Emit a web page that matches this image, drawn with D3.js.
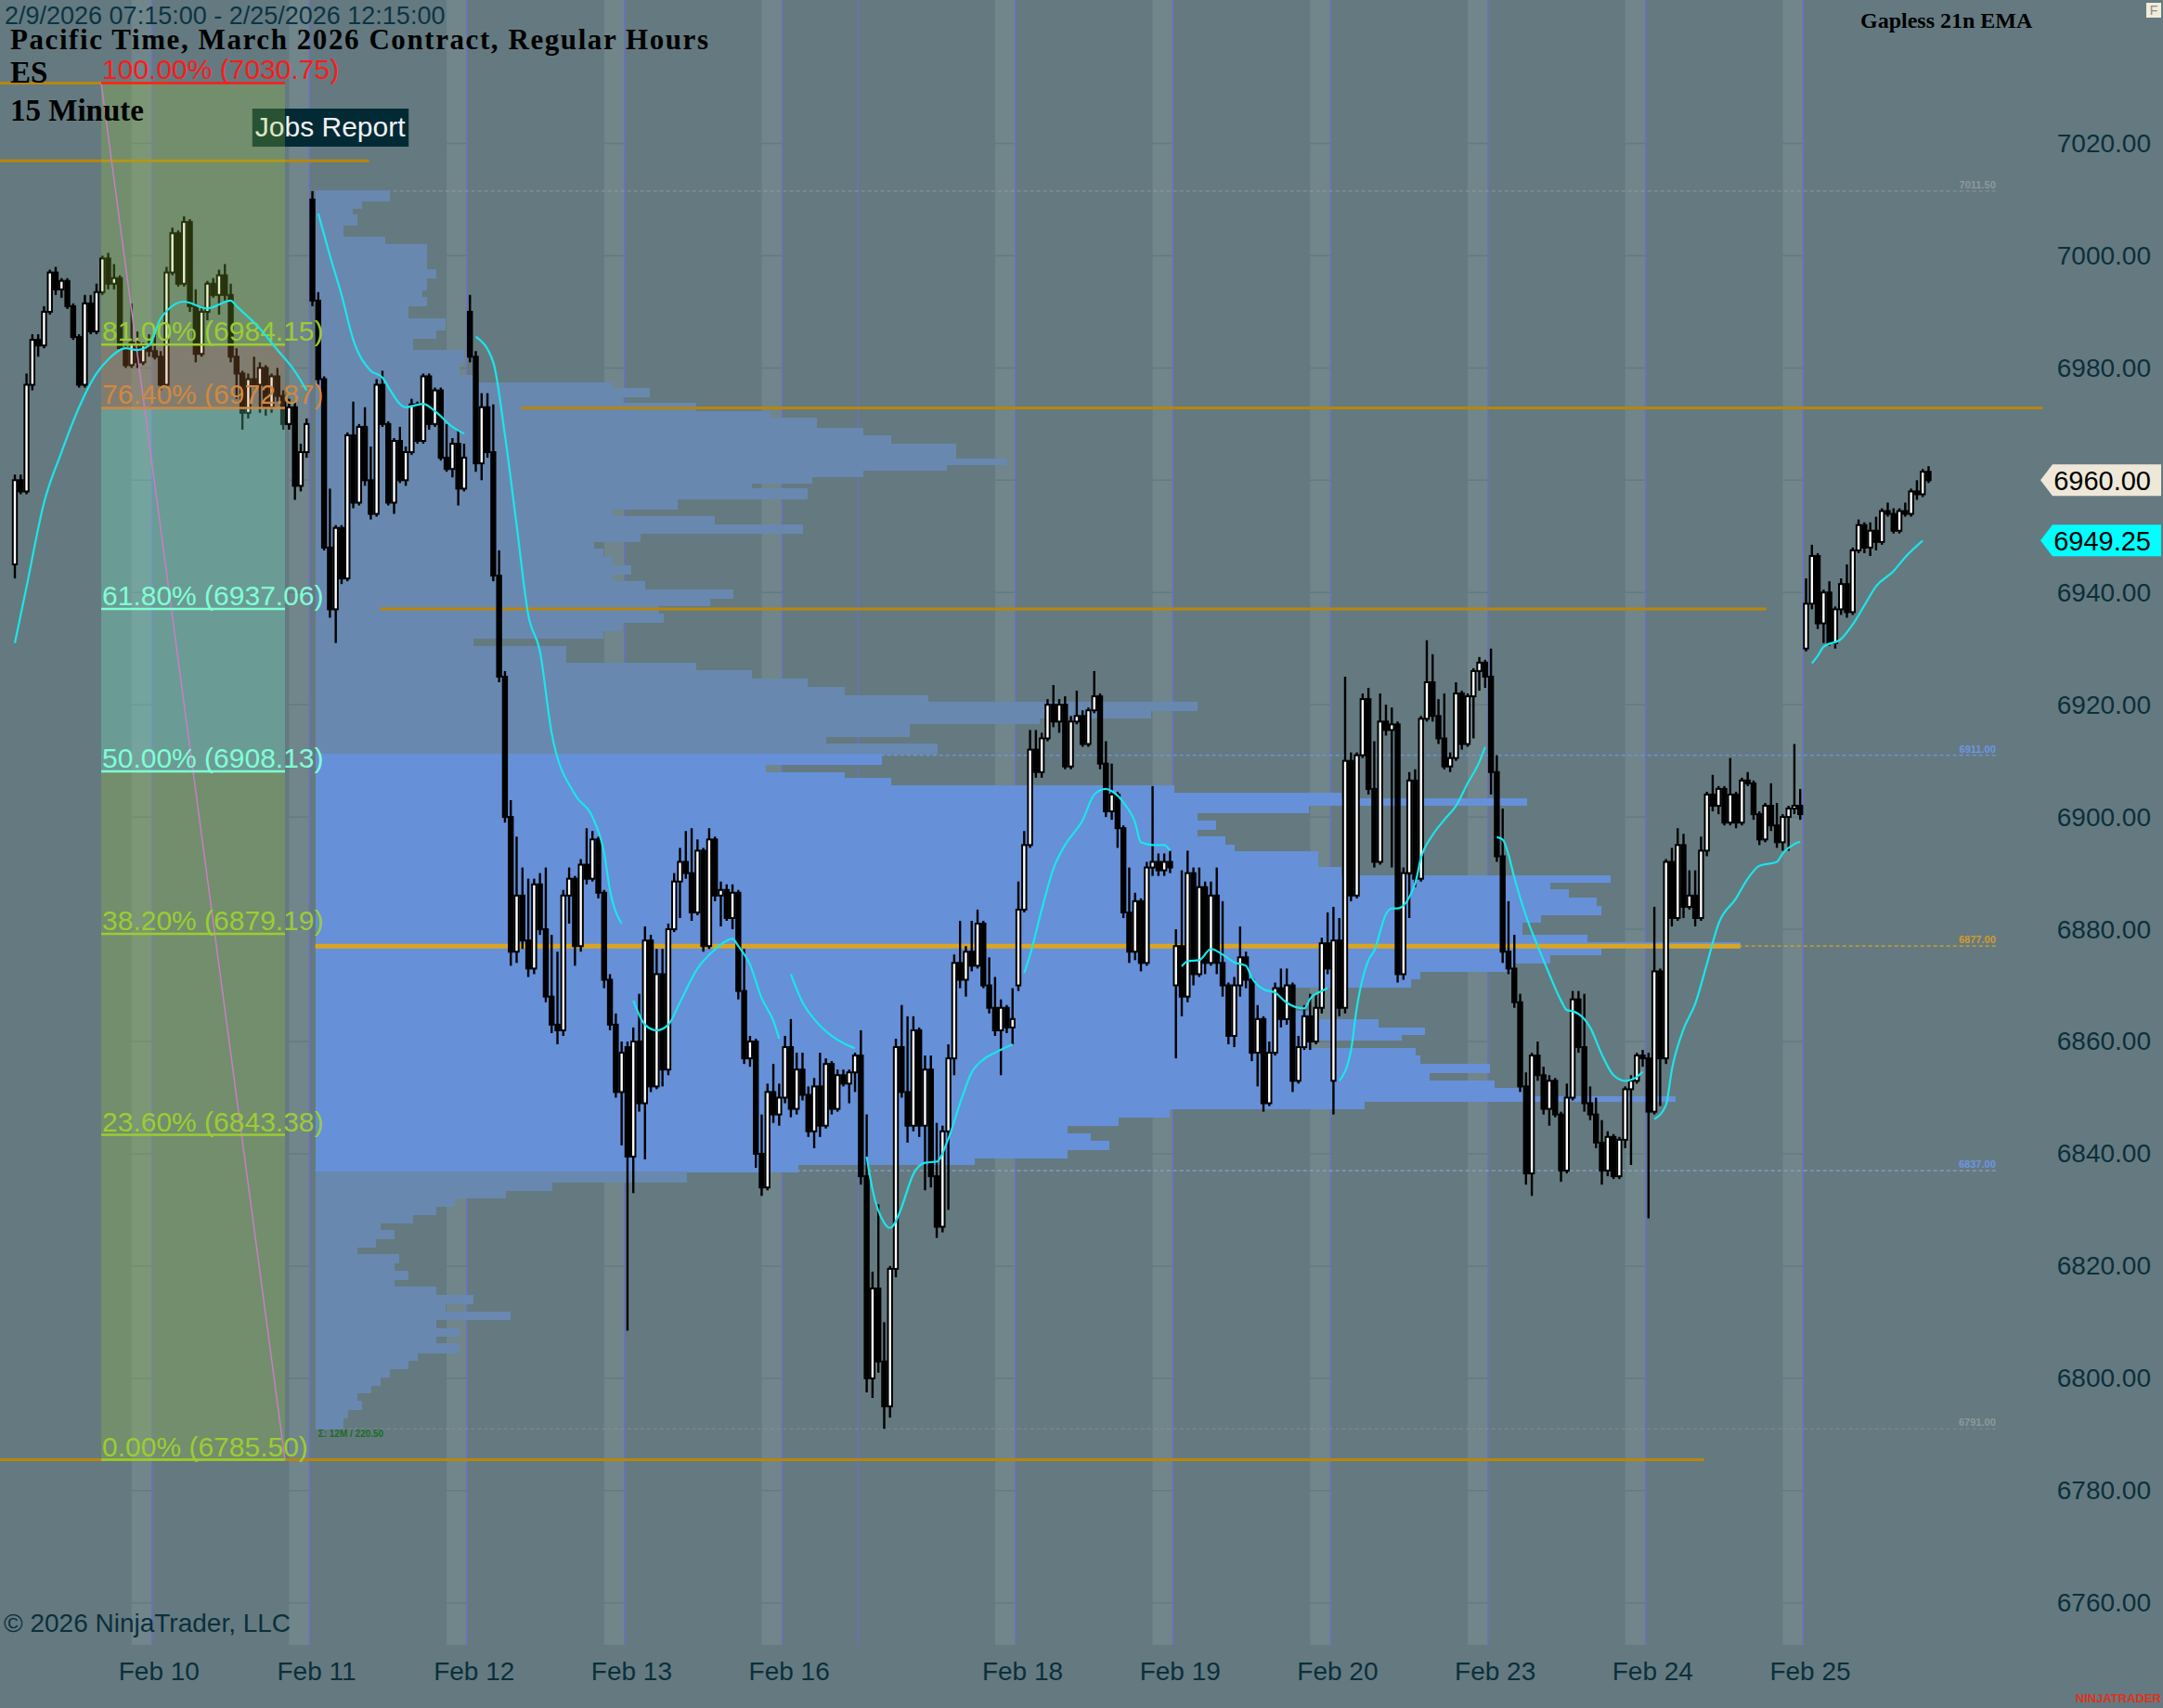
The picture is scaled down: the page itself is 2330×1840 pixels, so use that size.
<!DOCTYPE html>
<html>
<head>
<meta charset="utf-8">
<script src="https://cdn.jsdelivr.net/npm/d3@7"></script>
<style>
  body { margin: 0; background: #647a80; }
  svg { display: block; }
</style>
</head>
<body>
<div id="chart"></div>
<script>
// ES 15 minute bars, regular hours, [open, high, low, close]
const feb09 = [
  [6945,6961,6942.5,6960],[6960,6961,6957.5,6958],[6958,6979,6957.5,6977],[6977,6986,6976,6985],
  [6985,6986,6982,6984],[6984,6991,6983.5,6990],[6990,6997.5,6989.5,6997],[6997,6998,6993,6994],
  [6994,6996,6992.5,6995.5],[6995.5,6996,6990.5,6991],[6991,6991.5,6985,6985.5],[6985.5,6986,6976.5,6977],
  [6977,6993,6976.5,6991.5],[6991.5,6993,6986,6986.5],[6986.5,6995,6986,6993.5],[6993.5,7000,6993,6999.5],
  [6999.5,7000.5,6994,6995],[6995,6998.5,6994,6996],[6996,6996.5,6983,6983.5],[6983.5,6984,6980,6980.5],
  [6980.5,6991.5,6980,6984.5],[6984.5,6986.5,6980,6981],[6981,6984.5,6980.5,6984],[6984,6986,6982,6983]
];
const feb10 = [
  [6983,6986,6981.5,6982],[6982,6983,6976,6977],[6977,6998,6976.5,6997],[6997,7005,6996.5,7004],
  [7004,7004.5,6994.5,6995],[6995,7007,6994.5,7006],[7006,7006.5,6990,6991],[6991,6994,6981,6982.5],
  [6982.5,6991,6982,6990],[6990,6995.5,6988.5,6995],[6995,6996,6992.5,6993],[6993,6997.5,6989.5,6996.5],
  [6996.5,6998.5,6992,6993],[6993,6995,6981,6982],[6982,6983.5,6974.5,6979],[6979,6979.5,6969,6972],
  [6972,6979,6971,6978],[6978,6982,6976.5,6977],[6977,6981,6972,6980],[6980,6980.5,6971.5,6973],
  [6973,6979,6972,6978.5],[6978.5,6980,6974,6975],[6975,6976,6969,6970],[6970,6974.5,6969,6973],
  [6973,6974,6956.5,6959],[6959,6966.5,6958,6965],[6965,6971,6964,6970]
];
const feb11 = [
  [7010,7011.5,6991,6992],[6992,6993.5,6977,6978],[6978,6978.5,6947.5,6948],[6948,6958.5,6935.5,6937],
  [6937,6952,6931,6951.5],[6951.5,6952,6941.5,6942.5],[6942.5,6968.5,6942,6968],[6968,6974,6955,6956],
  [6956,6970,6955.5,6969.5],[6969.5,6973,6959,6960],[6960,6966,6953,6954],[6954,6978,6953.5,6977],
  [6977,6979.5,6969.5,6970],[6970,6970.5,6955.5,6956],[6956,6967.5,6954,6967],[6967,6969.5,6959.5,6960],
  [6960,6966,6959,6965],[6965,6974.5,6964.5,6973.5],[6973.5,6974,6966.5,6967],[6967,6979,6966.5,6978.5],
  [6978.5,6979,6969,6970],[6970,6976.5,6969.5,6976],[6976,6976.5,6963.5,6964],[6964,6970,6961.5,6962],
  [6962,6967.5,6960.5,6966.5],[6966.5,6969,6955.5,6958.5],[6958.5,6966.5,6958,6964]
];
const feb12 = [
  [6990,6993,6981,6982],[6982,6983,6961.5,6963],[6963,6975.5,6960,6973],[6973,6975.5,6964,6965],
  [6965,6973.5,6942,6943],[6943,6947.5,6924,6925],[6925,6926,6899,6900],[6900,6903,6873.5,6876],
  [6876,6896.5,6874,6886],[6886,6891,6876.5,6878],[6878,6889,6871.5,6873],[6873,6889,6872,6888],
  [6888,6890,6879,6880],[6880,6891,6867,6868],[6868,6879,6861.5,6863],[6863,6876,6859.5,6862],
  [6862,6887,6861,6886],[6886,6891,6881,6889],[6889,6889.5,6873.5,6877],[6877,6892.5,6876,6891.5],
  [6891.5,6898,6888,6889],[6889,6897.5,6888.5,6896],[6896,6896.5,6885.5,6886.5],[6886.5,6887,6869.5,6871],
  [6871,6872,6862,6863],[6863,6865,6850,6851],[6851,6860,6841.5,6858]
];
const feb13 = [
  [6859,6860,6808.5,6839.5],[6839.5,6862.5,6833,6860],[6860,6868.5,6847.5,6849],[6849,6880.5,6839,6878],
  [6878,6879,6851,6852],[6852,6876.5,6851.5,6872],[6872,6876.5,6852,6855],[6855,6881,6854,6880],
  [6880,6890,6879.5,6888.5],[6888.5,6894.5,6882,6892],[6892,6897.5,6889,6890],[6890,6898,6881.5,6883],
  [6883,6896,6882.5,6894],[6894,6894.5,6876,6877],[6877,6898,6876.5,6896],[6896,6896.5,6885,6886],
  [6886,6888.5,6880.5,6887],[6887,6888,6881.5,6882],[6882,6888,6880,6886.5],[6886.5,6887,6867.5,6869],
  [6869,6876.5,6856,6857],[6857,6861,6855.5,6860],[6860,6860.5,6837.5,6840],[6840,6847,6832.5,6834],
  [6834,6852.5,6833.5,6851],[6851,6856,6845.5,6847],[6847,6852.5,6845,6850]
];
const feb16 = [
  [6850,6861,6849,6859],[6859,6864,6846.5,6848],[6848,6858,6847,6855],[6855,6858,6849.5,6850.5],
  [6850.5,6852,6843,6844],[6844,6853.5,6841,6852],[6852,6858,6843,6845],[6845,6857,6844.5,6856],
  [6856,6856.5,6847,6848],[6848,6855,6847.5,6854],[6854,6855,6852,6852.5],[6852.5,6855,6849,6854.5],
  [6854.5,6858,6851,6857.5]
];
const feb17 = [
  [6857.5,6862,6834.5,6836],[6836,6847,6797.5,6800],[6800,6819,6796.5,6816],[6816,6831,6801,6803],
  [6803,6810,6791,6795],[6795,6820,6793,6819.5],[6819.5,6860.5,6818,6859],[6859,6866.5,6850,6851],
  [6851,6864.5,6842,6845],[6845,6864.5,6844,6862],[6862,6862.5,6843,6845],[6845,6857.5,6833.5,6855],
  [6855,6857.5,6834,6836],[6836,6845.5,6825,6827],[6827,6845,6826,6844],[6844,6859.5,6830,6857],
  [6857,6875.5,6854,6874],[6874,6881.5,6869.5,6871],[6871,6877,6868,6876],[6876,6881.5,6872.5,6873.5],
  [6873.5,6883.5,6873,6881],[6881,6881.5,6869.5,6870],[6870,6875,6865,6866],[6866,6871.5,6861,6862],
  [6862,6867.5,6854,6866],[6866,6866.5,6861.5,6862.5],[6862.5,6869.5,6859.5,6864]
];
const feb18 = [
  [6870,6888.5,6869,6883.5],[6883.5,6897.5,6883,6895],[6895,6915.5,6894.5,6912],[6912,6915.5,6907,6908],
  [6908,6915,6907,6914],[6914,6921,6913.5,6920],[6920,6923.5,6916,6917],[6917,6921,6915,6920],
  [6920,6921.5,6908.5,6909],[6909,6918,6908.5,6917],[6917,6922.5,6916.5,6918],[6918,6919,6912.5,6913],
  [6913,6919.5,6912.5,6919],[6919,6926,6918.5,6921.5],[6921.5,6922,6908.5,6909.5],[6909.5,6913.5,6900,6901],
  [6901,6909.5,6899.5,6904],[6904,6904.5,6894.5,6898],[6898,6898.5,6882,6883],[6883,6891,6874,6876],
  [6876,6886.5,6874.5,6885],[6885,6885.5,6872.5,6874],[6874,6892,6873.5,6891],[6891,6905.5,6889.5,6892],
  [6892,6893.5,6889.5,6890.5],[6890.5,6893.5,6889.5,6892],[6892,6894,6890,6891]
];
const feb19 = [
  [6870,6880,6857,6877],[6877,6890.5,6864.5,6868],[6868,6894,6867,6890],[6890,6891,6870,6872],
  [6872,6891,6871.5,6887.5],[6887.5,6888.5,6872,6874],[6874,6888.5,6873.5,6886],[6886,6891,6872,6874],
  [6874,6885,6868,6870],[6870,6870.5,6859.5,6861],[6861,6871.5,6859,6870],[6870,6880.5,6868,6875],
  [6875,6876,6869.5,6871],[6871,6871.5,6856.5,6858],[6858,6866.5,6852,6864],[6864,6864.5,6847.5,6849],
  [6849,6860,6848.5,6858],[6858,6870.5,6857.5,6869.5],[6869.5,6873,6862.5,6864],[6864,6873,6863,6870],
  [6870,6870.5,6851,6853],[6853,6861,6852.5,6859],[6859,6866.5,6858.5,6864.5],[6864.5,6868.5,6858.5,6860],
  [6860,6868.5,6859.5,6866],[6866,6878.5,6865,6877.5],[6877.5,6883,6872,6873]
];
const feb20 = [
  [6853,6884,6847,6878],[6878,6882,6864.5,6866],[6866,6925,6865,6910],[6910,6911.5,6885,6886],
  [6886,6911.5,6885.5,6911],[6911,6922,6910.5,6921],[6921,6923,6904,6905],[6905,6913.5,6891,6892],
  [6892,6922,6891.5,6917],[6917,6920,6914.5,6915.5],[6915.5,6919.5,6891,6916.5],[6916.5,6917,6870.5,6872],
  [6872,6891,6871,6890],[6890,6908,6882,6906.5],[6906.5,6908.5,6887.5,6889],[6889,6918,6888.5,6917.5],
  [6917.5,6931.5,6917,6924],[6924,6929,6917,6918],[6918,6921,6913,6914],[6914,6922,6908.5,6909],
  [6909,6911.5,6908,6910.5],[6910.5,6924,6910,6922],[6922,6922.5,6912,6913],[6913,6922,6912.5,6921.5],
  [6921.5,6926.5,6914,6926],[6926,6928.5,6922.5,6927.5],[6927.5,6928,6923,6925]
];
const feb23 = [
  [6925,6930,6904,6908],[6908,6911,6892,6893],[6893,6901.5,6874,6876],[6876,6885,6872,6873],
  [6873,6879,6866,6867],[6867,6868.5,6851,6852],[6852,6854.5,6834.5,6836.5],[6836.5,6858,6832.5,6857.5],
  [6857.5,6860,6853,6854],[6854,6855.5,6847,6848],[6848,6854,6845,6853],[6853,6853.5,6846.5,6847],
  [6847,6847.5,6835,6837],[6837,6852.5,6836.5,6850],[6850,6869,6849.5,6867.5],[6867.5,6869,6858,6859],
  [6859,6868.5,6847.5,6849],[6849,6852,6846,6847],[6847,6850,6841,6842],[6842,6846,6834.5,6837],
  [6837,6844,6836,6843],[6843,6843.5,6835.5,6836],[6836,6843,6835.5,6842.5],[6842.5,6852,6841,6851.5],
  [6851.5,6854,6838,6853],[6853,6858,6852.5,6857.5],[6857.5,6858.5,6855.5,6857]
];
const feb24 = [
  [6857,6858,6828.5,6847.5],[6847.5,6884,6847,6872.5],[6872.5,6873,6848.5,6857],[6857,6892.5,6856,6892],
  [6892,6894.5,6880.5,6882],[6882,6898,6881.5,6895],[6895,6897,6882,6884],[6884,6890.5,6883.5,6886],
  [6886,6890.5,6880.5,6882],[6882,6896.5,6881.5,6894],[6894,6904.5,6893,6904],[6904,6907.5,6901,6902],
  [6902,6905.5,6900.5,6905],[6905,6905.5,6898.5,6899],[6899,6910.5,6898.5,6904],[6904,6904.5,6898,6899],
  [6899,6907,6898.5,6906.5],[6906.5,6908,6905.5,6906],[6906,6906.5,6899.5,6900.5],[6900.5,6901,6895,6896],
  [6896,6902.5,6895.5,6902],[6902,6906,6897.5,6898.5],[6898.5,6902.5,6894.5,6895.5],[6895.5,6900.5,6894,6900],
  [6900,6902,6894,6901.5],[6901.5,6913,6900.5,6902],[6902,6905,6899.5,6900.5]
];
const feb25 = [
  [6930,6942.5,6929.5,6938],[6938,6948.5,6937,6946.5],[6946.5,6947,6933.5,6934.5],[6934.5,6940.5,6931,6940],
  [6940,6942,6930.5,6931],[6931,6937.5,6930,6937],[6937,6942.5,6936,6941.5],[6941.5,6945,6935.5,6936.5],
  [6936.5,6948,6936,6947.5],[6947.5,6953,6947,6952],[6952,6952.5,6947,6948],[6948,6952.5,6946.5,6951],
  [6951,6953.5,6947.5,6949],[6949,6955,6948.5,6954.5],[6954.5,6956,6953.5,6954],[6954,6955,6950.5,6951],
  [6951,6955,6950.5,6954.5],[6954.5,6956,6953.5,6954],[6954,6958.5,6953.5,6958],[6958,6960,6956.5,6957.5],
  [6957.5,6962,6957,6961.5],[6961.5,6962.5,6959.5,6960]
];

const sessionNames = ["Feb 9","Feb 10","Feb 11","Feb 12","Feb 13","Feb 16","Feb 17","Feb 18","Feb 19","Feb 20","Feb 23","Feb 24","Feb 25"];
const sessionBars  = [feb09, feb10, feb11, feb12, feb13, feb16, feb17, feb18, feb19, feb20, feb23, feb24, feb25];
const showLabel    = [false, true, true, true, true, true, false, true, true, true, true, true, true];
const hasStripe    = [false, true, true, true, true, true, false, true, true, true, true, true, true];

// Gapless 21n EMA, one segment per session: [bar index, value]
const emaFeb09 = [[0,6931],[2,6941],[5,6956],[8,6965],[10,6970.5],[14,6979],[16,6981.5],[19,6983.5],[21,6983.2],[23,6984],[25,6988.8],[29,6991.8],[33,6990.6],[37,6992],[38,6991],[42,6987],[45,6983.2],[48,6979.4],[50,6976]];
const emaFeb11 = [[52,7007.5],[54,7000],[56,6993],[58,6985],[61,6979.5],[63,6978.3],[64,6976.6],[67,6973],[70,6973.6],[72,6972.3],[75,6969.5],[77,6968.3]];
const emaFeb12 = [[79,6985.6],[82,6981],[84,6968],[86,6952],[88,6936],[90,6929.5],[92,6915],[96,6904],[99,6900],[101,6893.6],[102,6887],[104,6881]];
const emaFeb13 = [[106,6867.3],[108,6863],[110,6862],[112,6863],[114,6867],[117,6873],[120,6876.4],[123,6878.3],[124,6877],[126,6873.7],[128,6867.7],[130,6863.7],[131,6860.5]];
const emaFeb16 = [[133,6872],[135,6867],[137,6864],[140,6861],[142,6859.7],[144,6858.8]];
const emaFeb17 = [[146,6839.5],[147,6833.6],[149,6827.7],[150,6826.8],[152,6830.5],[153,6833.6],[154,6836.4],[156,6838.4],[158,6838.6],[160,6842.7],[162,6849],[164,6854.5],[166,6856.8],[168,6858],[171,6859.5]];
const emaFeb18 = [[173,6872.2],[174,6875.4],[176,6883.5],[178,6890.8],[180,6895],[183,6899.4],[185,6904],[187,6905],[188,6904.6],[190,6902.6],[192,6899],[193,6895.5],[195,6895],[197,6895],[198,6894]];
const emaFeb19 = [[200,6873.4],[201,6874.3],[203,6874.5],[205,6876.5],[207,6875.5],[209,6874.1],[211,6873.5],[212,6871.4],[214,6869.3],[216,6868.7],[218,6866.9],[221,6865.9],[222,6867.6],[224,6869],[225,6869.5]];
const emaFeb20 = [[227,6853],[229,6858.4],[230,6866],[232,6874.5],[233,6876.2],[235,6882.7],[236,6883.7],[237,6883.7],[240,6888.2],[241,6892.7],[243,6896.8],[245,6899.5],[247,6902],[249,6906],[251,6909.8],[252,6912.5]];
const emaFeb23 = [[254,6896.4],[255,6896],[256,6893.3],[257,6889.2],[259,6882.4],[261,6877],[263,6872],[265,6867.3],[266,6865.6],[267,6865.4],[269,6864],[270,6862.5],[272,6857.7],[274,6854],[276,6853],[278,6853.7],[279,6854.6]];
const emaFeb24 = [[281,6846.2],[283,6848.7],[284,6855],[286,6862.2],[288,6866.7],[290,6873.8],[292,6881],[295,6885.5],[297,6889],[299,6891.3],[302,6892],[303,6893.5],[305,6895.2],[306,6895.6]];
const emaFeb25 = [[308,6927.4],[309,6928.7],[310,6930.3],[313,6931.7],[315,6934.3],[317,6937.7],[319,6941.1],[322,6943.8],[324,6946.3],[327,6949.25]];
const emaSegments = [emaFeb09, emaFeb11, emaFeb12, emaFeb13, emaFeb16, emaFeb17, emaFeb18, emaFeb19, emaFeb20, emaFeb23, emaFeb24, emaFeb25];

// volume profile from Feb 11 open: row top price and volume (thousand contracts)
const profileTops = [7011.5,7009.8,7008.4,7007.2,7005.5,7003.3,7001.9,6997.5,6996.1,6993.9,
  6992.5,6991.0,6988.8,6986.7,6985.2,6983.1,6980.9,6978.7,6977.3,6976.3,
  6974.8,6973.7,6972.2,6971.1,6969.3,6967.9,6966.4,6963.85,6962.8,6961.8,
  6960.7,6959.5,6958.5,6956.6,6954.9,6953.5,6952.0,6950.6,6949.1,6947.7,
  6946.2,6944.8,6943.3,6941.9,6940.4,6939.0,6937.6,6936.1,6934.7,6933.2,
  6931.8,6930.3,6927.4,6926.0,6924.5,6923.1,6921.6,6920.5,6919.0,6917.6,
  6916.6,6914.4,6913.0,6911.25,6909.4,6907.9,6906.9,6905.5,6904.3,6903.2,
  6902.15,6900.7,6899.3,6897.8,6896.4,6894.9,6893.8,6891.0,6889.6,6888.4,
  6887.0,6885.5,6884.1,6882.6,6881.2,6879.0,6877.6,6876.6,6875.4,6874.0,
  6872.5,6871.1,6869.6,6865.3,6863.9,6862.4,6861.3,6860.3,6858.8,6857.4,
  6855.9,6854.5,6853.0,6851.6,6850.1,6849.4,6848.0,6846.5,6845.1,6843.6,
  6842.2,6840.7,6839.3,6838.1,6836.7,6835.0,6833.5,6832.1,6830.6,6829.2,
  6827.7,6826.3,6824.8,6823.4,6822.0,6820.5,6819.1,6817.6,6816.2,6814.7,
  6813.3,6811.8,6810.4,6808.9,6807.5,6806.1,6804.6,6803.2,6801.7,6800.3,
  6798.8,6797.4,6795.9,6794.5,6793.0];
const profileVols = [8,5,4,4.5,3,7.5,12,13,12,11.5,
  12,10,14,13,10.5,16,15.5,17.5,32,36,
  33,41,49,54,59,62,69,74.5,68,59,
  53.5,47,53,39,32,43,52.5,35,30,31,
  32,34,32,35.5,45,42.5,37,37.5,33,31,
  17,27,41,47,53,57,66,95,90,78,
  64,55,67,61,48.5,57,62,92.5,110.5,130.5,
  107,95,97,95,98,99,108,110.5,139.5,133,
  135,138,138.5,132,130,137,153.5,138.5,133,129,
  119,118,105,107,114.5,119.5,117,107,118.5,119,
  126.5,120,127,130.5,146.5,113,92,86.5,81,83.5,
  85.5,81,71,52,40,25.5,20.5,15,13,10.5,
  7,8.5,6.5,4.5,9,8.5,10,8.5,13,17,
  14,21,13,15.5,13,15.5,11,10,8,7,
  6,4.5,5,3.5,3];
const profileLow = 6790.9;
const profileStartBar = 51;
const profileHigh = 7011.50, valueAreaHigh = 6911.00, pocPrice = 6877.00, valueAreaLow = 6837.00, profileBottom = 6791.00;
const profileSummary = "Σ: 12M / 220.50";

// Fibonacci retracement drawn on the jobs report move
const fibPct    = ["100.00%","81.00%","76.40%","61.80%","50.00%","38.20%","23.60%","0.00%"];
const fibPrices = [7030.75, 6984.15, 6972.87, 6937.06, 6908.13, 6879.19, 6843.38, 6785.50];
const fibColors = ["#ff1a1a","#9acd32","#d2883e","#7fffd4","#7fffd4","#9acd32","#9acd32","#9acd32"];
const fibStartBar = 14.8, fibEndBar = 46.3;

// horizontal lines: [price, from bar, to bar]
const goldLines = [[7030.75,-3,26.4],[7016.9,-3,60.7],[6972.87,86.8,347.5],[6937.06,62.6,300.2],[6785.5,-3,289.5]];

const jobsReport = { bar: 40.7, price: 7026.2, text: "Jobs Report" };
const lastPrice = 6960.00, lastEma = 6949.25;
const yTicks = [7020,7000,6980,6960,6940,6920,6900,6880,6860,6840,6820,6800,6780,6760];

// ---------------------------------------------------------------
const W = 2330, H = 1840;
const BG = "#647a80";
const SANS = "'Liberation Sans', Arial, Helvetica, sans-serif";
const SERIF = "'Liberation Serif', 'Times New Roman', serif";
const AXIS_TEXT = "#0c2f3c";

const svg = d3.select("#chart").append("svg").attr("width", W).attr("height", H);
svg.append("rect").attr("width", W).attr("height", H).attr("fill", BG);

// flatten the sessions
let bars = [];
let sessions = sessionNames.map((name, si) => {
  let start = bars.length;
  sessionBars[si].forEach(b => bars.push({ o: b[0], h: b[1], l: b[2], c: b[3] }));
  return { name: name, start: start, label: showLabel[si], stripe: hasStripe[si] };
});

const x = d3.scaleLinear().domain([0, bars.length - 1]).range([16, 16 + (bars.length - 1) * 6.285]);
const y = d3.scaleLinear().domain([6760, 7020]).range([1726.7, 154.5]);
const step = x(1) - x(0);
const chartBottom = 1772, plotRight = 2205;

// session stripes, gridlines, session breaks
svg.append("g").selectAll("rect")
  .data(sessions.filter(s => s.stripe))
  .join("rect")
  .attr("x", s => x(s.start) - step / 2 - 22)
  .attr("width", 22)
  .attr("y", 0)
  .attr("height", chartBottom)
  .attr("fill", "#70868b");

svg.append("g").selectAll("line")
  .data(yTicks)
  .join("line")
  .attr("x1", 0).attr("x2", plotRight)
  .attr("y1", d => y(d)).attr("y2", d => y(d))
  .attr("stroke", BG).attr("stroke-width", 1.5);

svg.append("g").selectAll("line")
  .data(sessions.slice(1))
  .join("line")
  .attr("x1", s => x(s.start) - step / 2).attr("x2", s => x(s.start) - step / 2)
  .attr("y1", 0).attr("y2", chartBottom)
  .attr("stroke", "#6b70c2").attr("stroke-width", 1.5);

// volume profile
const profileX0 = x(profileStartBar) + step / 2;
const vol = d3.scaleLinear().domain([0, 155]).range([profileX0, profileX0 + 1550]);
const levelEnd = x(339.5);

const profileLevels = [
  { p: profileHigh, color: "rgba(165,165,165,0.55)", text: "#8e989c" },
  { p: valueAreaHigh, color: "#6f95e6", text: "#6f95e6" },
  { p: pocPrice, color: "#daa520", text: "#d49a2a" },
  { p: valueAreaLow, color: "#8aa3c8", text: "#6f95e6" },
  { p: profileBottom, color: "rgba(165,165,165,0.45)", text: "#8e989c" }
];
svg.append("g").selectAll("line")
  .data(profileLevels)
  .join("line")
  .attr("x1", profileX0).attr("x2", levelEnd)
  .attr("y1", d => y(d.p)).attr("y2", d => y(d.p))
  .attr("stroke", d => d.color).attr("stroke-width", 1.2)
  .attr("stroke-dasharray", "4,3");

const rows = profileTops.map((t, j) => ({
  top: t,
  bottom: j + 1 < profileTops.length ? profileTops[j + 1] : profileLow,
  v: profileVols[j]
}));
svg.append("g")
  .attr("shape-rendering", "crispEdges")
  .selectAll("rect")
  .data(rows)
  .join("rect")
  .attr("x", profileX0)
  .attr("y", d => Math.floor(y(d.top)))
  .attr("width", d => vol(d.v) - profileX0)
  .attr("height", d => Math.ceil(y(d.bottom)) - Math.floor(y(d.top)))
  .attr("fill", d => {
    let mid = (d.top + d.bottom) / 2;
    return (mid <= valueAreaHigh && mid >= valueAreaLow) ? "#6690d8" : "#6888b0";
  });

svg.append("line")
  .attr("x1", profileX0).attr("x2", vol(d3.max(profileVols)))
  .attr("y1", y(pocPrice)).attr("y2", y(pocPrice))
  .attr("stroke", "#daa520").attr("stroke-width", 5);

svg.append("g").selectAll("text")
  .data(profileLevels)
  .join("text")
  .attr("x", levelEnd).attr("y", d => y(d.p) - 3)
  .attr("text-anchor", "end")
  .attr("font-family", SANS).attr("font-size", 11).attr("font-weight", "bold")
  .attr("fill", d => d.text)
  .text(d => d3.format(".2f")(d.p));

svg.append("text")
  .attr("x", profileX0 + 3).attr("y", y(profileLow) + 8)
  .attr("font-family", SANS).attr("font-size", 10).attr("font-weight", "bold")
  .attr("fill", "#1d6b25")
  .text(profileSummary);

// horizontal gold lines
svg.append("g").selectAll("line")
  .data(goldLines)
  .join("line")
  .attr("x1", d => x(d[1])).attr("x2", d => x(d[2]))
  .attr("y1", d => y(d[0])).attr("y2", d => y(d[0]))
  .attr("stroke", "#b8860b").attr("stroke-width", 3);

// jobs report note
const jr = svg.append("g");
const jrText = jr.append("text")
  .attr("x", x(jobsReport.bar) + 3)
  .attr("y", y(jobsReport.price) + 30)
  .attr("font-family", SANS).attr("font-size", 30)
  .attr("fill", "#f2f2f2")
  .text(jobsReport.text);
const jb = jrText.node().getBBox();
jr.insert("rect", "text")
  .attr("x", x(jobsReport.bar)).attr("y", y(jobsReport.price))
  .attr("width", jb.width + 6).attr("height", 41)
  .attr("fill", "#022a35");

// candles: black wick, hollow white up bodies with heavy outline, solid black down bodies
const cg = svg.append("g");
cg.selectAll("line")
  .data(bars)
  .join("line")
  .attr("x1", (d, i) => x(i)).attr("x2", (d, i) => x(i))
  .attr("y1", d => y(d.h)).attr("y2", d => y(d.l))
  .attr("stroke", "#000").attr("stroke-width", 2.4);
cg.selectAll("rect")
  .data(bars)
  .join("rect")
  .attr("x", (d, i) => x(i) - 2.2)
  .attr("width", 4.4)
  .attr("y", d => y(Math.max(d.o, d.c)))
  .attr("height", d => Math.max(Math.abs(y(d.o) - y(d.c)), 1))
  .attr("fill", d => d.c > d.o ? "#ffffff" : "#000000")
  .attr("stroke", "#000")
  .attr("stroke-width", 2);

// fibonacci bands, levels and labels
const fx0 = x(fibStartBar), fx1 = x(fibEndBar);
const fg = svg.append("g");
fg.selectAll("rect")
  .data(fibPrices.slice(1))
  .join("rect")
  .attr("x", fx0).attr("width", fx1 - fx0)
  .attr("y", (d, i) => y(fibPrices[i]))
  .attr("height", (d, i) => y(d) - y(fibPrices[i]))
  .attr("fill", (d, i) => fibColors[i + 1])
  .attr("fill-opacity", 0.25);
fg.append("line")
  .attr("x1", fx0).attr("y1", y(fibPrices[0]))
  .attr("x2", fx1).attr("y2", y(fibPrices[fibPrices.length - 1]))
  .attr("stroke", "#c77fc4").attr("stroke-width", 1.5);
fg.selectAll("line.level")
  .data(fibPrices)
  .join("line")
  .attr("class", "level")
  .attr("x1", fx0).attr("x2", fx1)
  .attr("y1", d => y(d)).attr("y2", d => y(d))
  .attr("stroke", (d, i) => fibColors[i]).attr("stroke-width", 2.5);
fg.selectAll("text")
  .data(fibPrices)
  .join("text")
  .attr("x", fx0 + 1).attr("y", d => y(d) - 4)
  .attr("font-family", SANS).attr("font-size", 30)
  .attr("fill", (d, i) => fibColors[i])
  .text((d, i) => `${fibPct[i]} (${d3.format(".2f")(d)})`);

// EMA
const emaLine = d3.line().x(d => x(d[0])).y(d => y(d[1])).curve(d3.curveMonotoneX);
svg.append("g").selectAll("path")
  .data(emaSegments)
  .join("path")
  .attr("d", emaLine)
  .attr("fill", "none")
  .attr("stroke", "#1ae6ea").attr("stroke-width", 2.2);

// price axis
const gy = svg.append("g").attr("transform", "translate(2317,0)")
  .call(d3.axisRight(y).tickValues(yTicks).tickFormat(d3.format(".2f")).tickSize(0).tickPadding(0));
gy.select(".domain").remove();
gy.selectAll("text")
  .attr("text-anchor", "end")
  .attr("font-family", SANS).attr("font-size", 28)
  .attr("fill", AXIS_TEXT);

// time axis
const labelled = sessions.filter(s => s.label);
const gx = svg.append("g").attr("transform", "translate(4,1790)")
  .call(d3.axisBottom(x).tickValues(labelled.map(s => s.start)).tickFormat((d, i) => labelled[i].name).tickSize(0).tickPadding(0));
gx.select(".domain").remove();
gx.selectAll("text")
  .attr("font-family", SANS).attr("font-size", 28)
  .attr("fill", AXIS_TEXT);

// price markers
function marker(value, fill) {
  let yy = y(value);
  let path = d3.path();
  path.moveTo(2198, yy);
  path.lineTo(2211, yy - 17);
  path.lineTo(2328, yy - 17);
  path.lineTo(2328, yy + 17);
  path.lineTo(2211, yy + 17);
  path.closePath();
  svg.append("path").attr("d", path.toString()).attr("fill", fill);
  svg.append("text")
    .attr("x", 2317).attr("y", yy).attr("dy", "0.36em")
    .attr("text-anchor", "end")
    .attr("font-family", SANS).attr("font-size", 29)
    .attr("fill", "#000")
    .text(d3.format(".2f")(value));
}
marker(lastPrice, "#efe8d8");
marker(lastEma, "#00ffff");

// header texts
svg.append("text")
  .attr("x", 5).attr("y", 26)
  .attr("font-family", SANS).attr("font-size", 27)
  .attr("fill", "#0c3444")
  .text("2/9/2026 07:15:00 - 2/25/2026 12:15:00");
svg.append("text")
  .attr("x", 11).attr("y", 53)
  .attr("font-family", SERIF).attr("font-size", 31).attr("font-weight", "bold")
  .attr("textLength", 752).attr("lengthAdjust", "spacing")
  .attr("fill", "#000")
  .text("Pacific Time, March 2026 Contract, Regular Hours");
svg.append("text")
  .attr("x", 11).attr("y", 89)
  .attr("font-family", SERIF).attr("font-size", 33).attr("font-weight", "bold")
  .attr("fill", "#000")
  .text("ES");
svg.append("text")
  .attr("x", 11).attr("y", 130)
  .attr("font-family", SERIF).attr("font-size", 33).attr("font-weight", "bold")
  .attr("fill", "#000")
  .text("15 Minute");
svg.append("text")
  .attr("x", 2004).attr("y", 30)
  .attr("font-family", SERIF).attr("font-size", 24).attr("font-weight", "bold")
  .attr("fill", "#000")
  .text("Gapless 21n EMA");

svg.append("rect").attr("x", 2312).attr("y", 3).attr("width", 16).attr("height", 16).attr("fill", "#f0ecd8");
svg.append("text")
  .attr("x", 2320).attr("y", 16).attr("text-anchor", "middle")
  .attr("font-family", SANS).attr("font-size", 14)
  .attr("fill", "#8a8a8a")
  .text("F");

svg.append("text")
  .attr("x", 4).attr("y", 1758)
  .attr("font-family", SANS).attr("font-size", 28)
  .attr("fill", AXIS_TEXT)
  .text("© 2026 NinjaTrader, LLC");
svg.append("text")
  .attr("x", 2328).attr("y", 1834).attr("text-anchor", "end")
  .attr("font-family", SANS).attr("font-size", 13).attr("font-weight", "bold")
  .attr("fill", "#e0301c")
  .text("NINJATRADER");
</script>
</body>
</html>
